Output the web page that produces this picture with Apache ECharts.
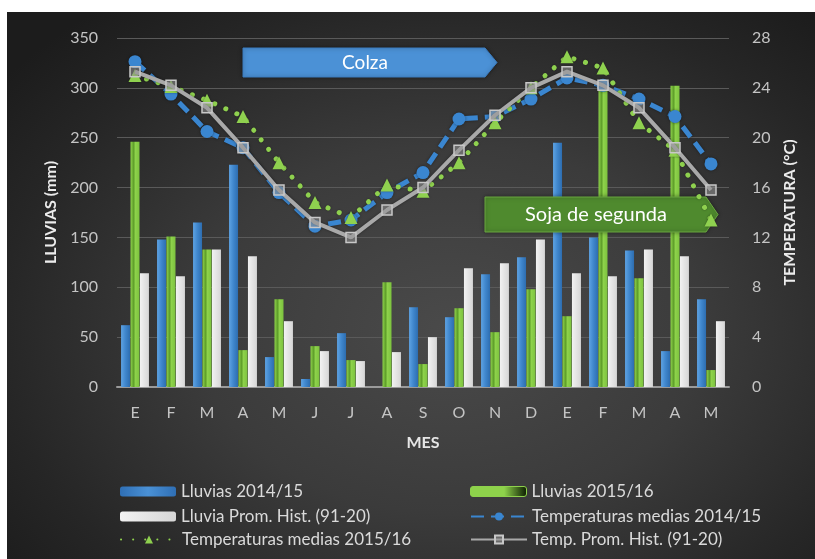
<!DOCTYPE html>
<html>
<head>
<meta charset="utf-8">
<script src="https://cdn.jsdelivr.net/npm/echarts@6/dist/echarts.min.js"></script>
<style>
  html, body { margin: 0; padding: 0; background: #ffffff; }
  #bg {
    position: absolute; left: 7px; top: 12px; width: 808px; height: 547px;
    background: radial-gradient(ellipse 70% 75% at 55% 58%, #4a4a4a 0%, #3b3b3b 45%, #262626 80%, #1c1c1c 100%);
  }
  #chart { position: absolute; left: 0; top: 0; width: 815px; height: 559px; }
</style>
</head>
<body>
<div id="bg"></div>
<div id="chart"></div>
<script>
// Months from January of one season to May of the next
const months = ['E', 'F', 'M', 'A', 'M', 'J', 'J', 'A', 'S', 'O', 'N', 'D', 'E', 'F', 'M', 'A', 'M'];

// Monthly rainfall (mm)
const rain1415 = [62, 148, 165, 223, 30, 8, 54, 0, 80, 70, 113, 130, 245, 150, 137, 36, 88];
const rain1516 = [246, 151, 138, 37, 88, 41, 27, 105, 23, 79, 55, 98, 71, 303, 109, 302, 17];
const rainHist = [114, 111, 138, 131, 66, 36, 26, 35, 50, 119, 124, 148, 114, 111, 138, 131, 66];

// Mean monthly temperatures (°C)
const temp1415 = [26.1, 23.5, 20.5, 19.2, 15.6, 12.9, 13.4, 15.6, 17.2, 21.5, 21.7, 23.1, 24.8, 24.2, 23.1, 21.7, 17.9];
const temp1516 = [25.0, 24.1, 23.0, 21.7, 18.0, 14.8, 13.6, 16.2, 15.7, 18.0, 21.2, 24.0, 26.5, 25.6, 21.2, 19.0, 13.4];
const tempHist = [25.3, 24.2, 22.4, 19.2, 15.8, 13.2, 12.0, 14.2, 16.0, 19.0, 21.8, 24.0, 25.3, 24.2, 22.4, 19.2, 15.8];

const names = {
  r1: 'Lluvias 2014/15',
  r2: 'Lluvias 2015/16',
  rh: 'Lluvia Prom. Hist. (91-20)',
  t1: 'Temperaturas medias 2014/15',
  t2: 'Temperaturas medias 2015/16',
  th: 'Temp. Prom. Hist. (91-20)'
};

const FONT = 'Lato';
const tickColor = '#c4c4c4';

const chart = echarts.init(document.getElementById('chart'), null, { renderer: 'canvas' });

const hGrad = (stops) => new echarts.graphic.LinearGradient(0, 0, 1, 0, stops);

const blueBar = hGrad([{ offset: 0, color: '#5ea3e3' }, { offset: 0.5, color: '#3f86cc' }, { offset: 1, color: '#2d6db0' }]);
const blueLegend = hGrad([{ offset: 0, color: '#2f6fb5' }, { offset: 0.5, color: '#4a91d6' }, { offset: 1, color: '#2f6fb5' }]);
const greenBar = hGrad([{ offset: 0, color: '#8ed24b' }, { offset: 0.35, color: '#5e9e2a' }, { offset: 0.55, color: '#8ed24b' }, { offset: 1, color: '#7cc23e' }]);
const greenLegend = hGrad([{ offset: 0, color: '#8ed24b' }, { offset: 0.6, color: '#8ed24b' }, { offset: 1, color: '#0a1a00' }]);
const whiteBar = hGrad([{ offset: 0, color: '#f2f2f2' }, { offset: 1, color: '#d6d6d6' }]);

const legendText = { color: '#dadada', fontFamily: FONT, fontSize: 17 };

// One legend entry per slot of the two-column key
function legendAt(left, top, item) {
  return {
    orient: 'horizontal', left: left, top: top, itemWidth: 56, itemHeight: 10, itemGap: 6,
    textStyle: legendText, data: [item]
  };
}

const option = {
  backgroundColor: 'transparent',
  animation: false,
  textStyle: { fontFamily: FONT },
  grid: { left: 117, right: 86, top: 38, bottom: 172 },
  legend: [
    legendAt(115, 478, { name: names.r1, itemStyle: { color: blueLegend } }),
    legendAt(115, 503, { name: names.rh }),
    legendAt(115, 526, { name: names.t2 }),
    legendAt(465, 478, { name: names.r2, itemStyle: { color: greenLegend, borderColor: '#8ed24b', borderWidth: 1 } }),
    legendAt(465, 503, { name: names.t1 }),
    legendAt(465, 526, { name: names.th })
  ],
  xAxis: {
    type: 'category',
    data: months,
    name: 'MES',
    nameLocation: 'middle',
    nameGap: 48,
    nameTextStyle: { color: '#e6e6e6', fontSize: 16, fontWeight: 'bold', fontFamily: FONT },
    axisLine: { lineStyle: { color: '#9a9a9a', width: 2 } },
    axisTick: { show: false },
    axisLabel: { color: tickColor, fontSize: 16, margin: 18, fontFamily: FONT }
  },
  yAxis: [
    {
      type: 'value', min: 0, max: 350, interval: 50,
      name: 'LLUVIAS (mm)',
      nameLocation: 'middle',
      nameGap: 58,
      nameRotate: 90,
      nameTextStyle: { color: '#ececec', fontSize: 16, fontWeight: 'bold', fontFamily: FONT },
      axisLine: { show: false },
      axisTick: { show: false },
      axisLabel: { color: tickColor, fontSize: 16, margin: 19, fontFamily: FONT },
      splitLine: { lineStyle: { color: '#5a5a5a', width: 1 } }
    },
    {
      type: 'value', min: 0, max: 28, interval: 4,
      name: 'TEMPERATURA (°C)',
      nameLocation: 'middle',
      nameGap: 50,
      nameRotate: 90,
      nameTextStyle: { color: '#ececec', fontSize: 16, fontWeight: 'bold', fontFamily: FONT },
      axisLine: { show: false },
      axisTick: { show: false },
      axisLabel: { color: tickColor, fontSize: 16, margin: 23, fontFamily: FONT },
      splitLine: { show: false }
    }
  ],
  graphic: [
    {
      type: 'polygon', z: 3,
      shape: { points: [[243, 48], [485, 48], [497, 62.5], [485, 77], [243, 77]] },
      style: { fill: '#4b91d6', stroke: '#3a7cc0', lineWidth: 1, shadowBlur: 4, shadowColor: 'rgba(0,0,0,0.4)' }
    },
    {
      type: 'text', z: 4, x: 365, y: 63,
      style: { text: 'Colza', fill: '#ffffff', font: '19px ' + FONT, textAlign: 'center', textVerticalAlign: 'middle' }
    },
    {
      type: 'polygon', z: 3,
      shape: { points: [[485, 197], [706, 197], [718, 214.5], [706, 232], [485, 232]] },
      style: { fill: '#4f8a2e', stroke: '#6aa640', lineWidth: 1, shadowBlur: 4, shadowColor: 'rgba(0,0,0,0.4)' }
    },
    {
      type: 'text', z: 4, x: 596, y: 215,
      style: { text: 'Soja de segunda', fill: '#ffffff', font: '20px ' + FONT, textAlign: 'center', textVerticalAlign: 'middle' }
    }
  ],
  series: [
    {
      name: names.r1, type: 'bar', yAxisIndex: 0, data: rain1415, z: 1,
      barWidth: 9, barGap: '5%',
      itemStyle: { color: blueBar }
    },
    {
      name: names.r2, type: 'bar', yAxisIndex: 0, data: rain1516, z: 1,
      barWidth: 9, barGap: '5%',
      itemStyle: { color: greenBar }
    },
    {
      name: names.rh, type: 'bar', yAxisIndex: 0, data: rainHist, z: 1,
      barWidth: 9, barGap: '5%',
      itemStyle: { color: whiteBar }
    },
    {
      name: names.t1, type: 'line', yAxisIndex: 1, data: temp1415, z: 5,
      symbol: 'circle', symbolSize: 13,
      lineStyle: { color: '#3a86d0', width: 5, type: [13, 7], shadowBlur: 3, shadowColor: 'rgba(0,0,0,0.45)' },
      itemStyle: { color: '#3a86d0', shadowBlur: 3, shadowColor: 'rgba(0,0,0,0.45)' }
    },
    {
      name: names.t2, type: 'line', yAxisIndex: 1, data: temp1516, z: 6,
      symbol: 'triangle', symbolSize: 13,
      lineStyle: { color: '#8fd14f', width: 5, type: [0.1, 12], cap: 'round', shadowBlur: 2, shadowColor: 'rgba(0,0,0,0.4)' },
      itemStyle: { color: '#8fd14f', shadowBlur: 2, shadowColor: 'rgba(0,0,0,0.4)' }
    },
    {
      name: names.th, type: 'line', yAxisIndex: 1, data: tempHist, z: 7,
      symbol: 'rect', symbolSize: 10,
      lineStyle: { color: '#a9a9a9', width: 4, shadowBlur: 3, shadowColor: 'rgba(0,0,0,0.4)' },
      itemStyle: { color: 'rgba(150,150,150,0.55)', borderColor: '#c8c8c8', borderWidth: 1.5 }
    }
  ]
};

chart.setOption(option);
</script>
</body>
</html>
